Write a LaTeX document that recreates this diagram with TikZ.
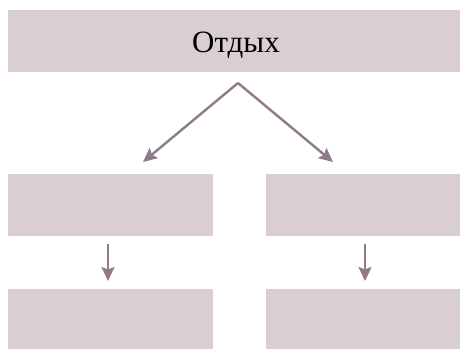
\documentclass[tikz,border=0pt]{standalone}
\usepackage{fontspec}
\setmainfont{Liberation Serif}
\usetikzlibrary{arrows.meta}
\definecolor{boxfill}{HTML}{D9CED4}
\definecolor{arrowc}{HTML}{8E7A88}
\begin{document}
\begin{tikzpicture}[x=1pt,y=-1pt,
  box/.style={fill=boxfill,draw=none,inner sep=0pt},
  arr/.style={draw=arrowc,line width=2.4pt,-{Stealth[length=14pt,width=13pt,inset=2.5pt]}}]
\useasboundingbox (0,0) rectangle (461,349);
\node[box,minimum width=452pt,minimum height=62pt] (top) at (234,41) {};
\node[anchor=base] (title) at (236,52) {\fontsize{31pt}{36pt}\selectfont Отдых};
\node[box,minimum width=205pt,minimum height=62pt] (l1) at (110.5,204.5) {};
\node[box,minimum width=205pt,minimum height=60pt] (l2) at (110.5,319) {};
\node[box,minimum width=194pt,minimum height=62pt] (r1) at (363,204.5) {};
\node[box,minimum width=194pt,minimum height=60pt] (r2) at (363,319) {};
\coordinate (apex) at (238,83);
\coordinate (lend) at (143,162);
\coordinate (rend) at (333,162);
\draw[arr] (apex) -- (lend);
\draw[arr] (apex) -- (rend);
\coordinate (la) at (108,244);
\coordinate (lb) at (108,281);
\coordinate (ra) at (365,244);
\coordinate (rb) at (365,281);
\draw[arr] (la) -- (lb);
\draw[arr] (ra) -- (rb);
\end{tikzpicture}
\end{document}
